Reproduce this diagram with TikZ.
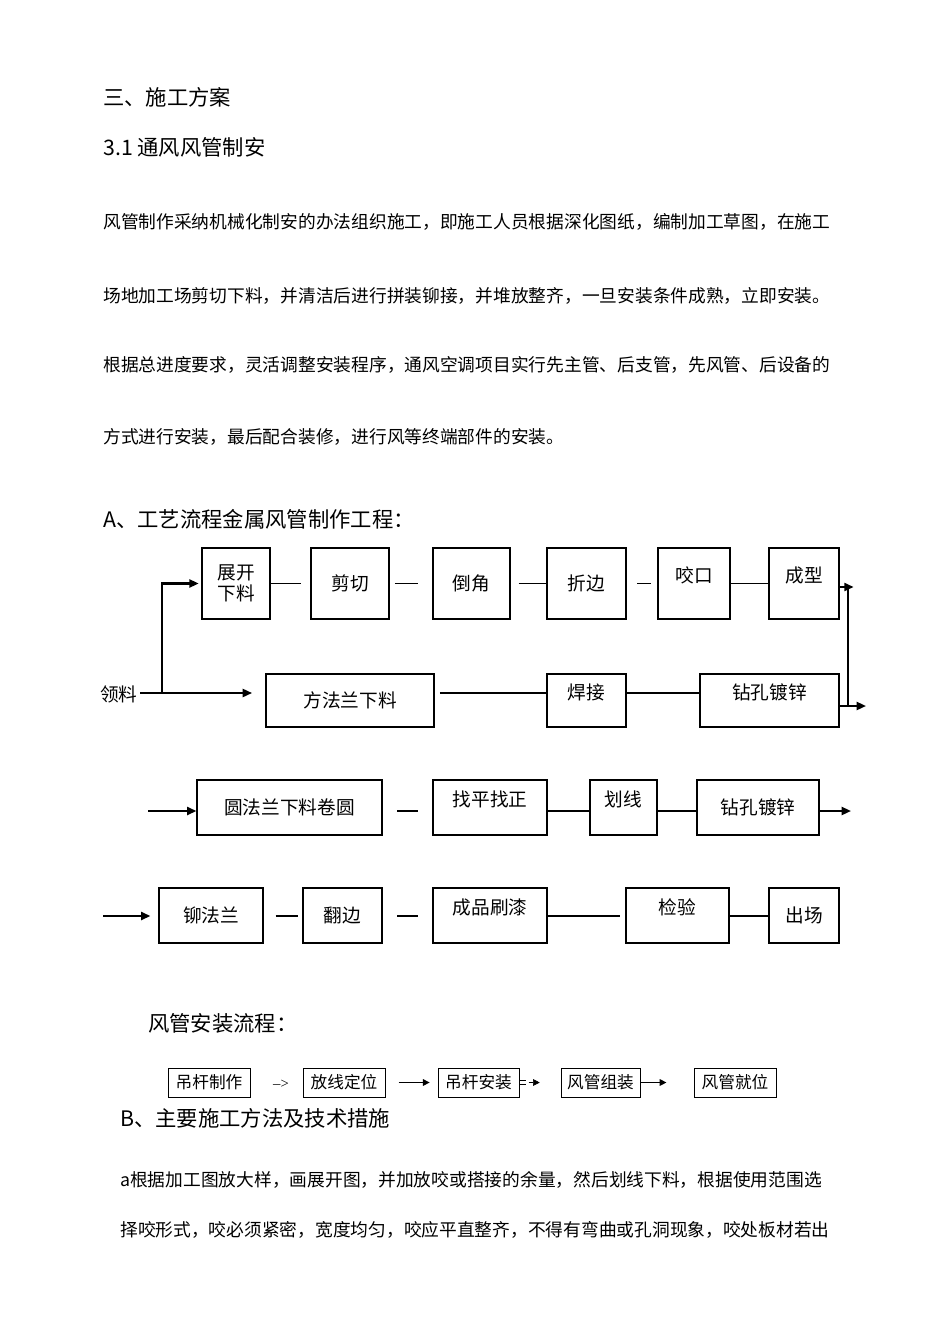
\documentclass[tikz,border=0pt]{standalone}
\usepackage{fontspec}
\setmainfont{Liberation Serif}
\newfontfamily\cjk{Noto Sans CJK SC}
\usetikzlibrary{fit,arrows.meta}
\tikzset{
 box/.style={draw, line width=0.9pt, inner sep=0pt},
 btxt/.style={font=\cjk\fontsize{14}{16}\selectfont},
 itxt/.style={font=\cjk\fontsize{12.5}{14}\selectfont},
 conn/.style={line width=0.8pt},
 arr/.style={line width=1.6pt, -{Triangle[length=7pt,width=6pt]}},
 pline/.style={anchor=west, inner sep=0pt, font=\cjk\fontsize{13.3}{15}\selectfont},
 head/.style={anchor=west, inner sep=0pt, font=\cjk\fontsize{16}{18}\selectfont}
}
\newcommand{\bx}[6]{\node[box, fit={(#2,#3)(#4,#5)}] (#1) {}; \node[btxt] at (#1.center) {#6};}
\newcommand{\bxt}[6]{\node[box, fit={(#2,#3)(#4,#5)}] (#1) {}; \node[btxt, yshift=6pt] at (#1.center) {#6};}
\newcommand{\ib}[6]{\node[box, line width=0.6pt, fit={(#2,#3)(#4,#5)}] (#1) {}; \node[itxt] at (#1.center) {#6};}
\begin{document}
\begin{tikzpicture}[x=0.75pt,y=-0.75pt]
\useasboundingbox[fill=white] (0,0) rectangle (950,1344);
\node[head] (h1) at (103,97) {三、施工方案};
\node[head] (h2) at (103,147) {3.1 通风风管制安};
\node[pline] (p1) at (103,222) {风管制作采纳机械化制安的办法组织施工，即施工人员根据深化图纸，编制加工草图，在施工};
\node[pline] (p2) at (103,296) {场地加工场剪切下料，并清洁后进行拼装铆接，并堆放整齐，一旦安装条件成熟，立即安装。};
\node[pline] (p3) at (103,365) {根据总进度要求，灵活调整安装程序，通风空调项目实行先主管、后支管，先风管、后设备的};
\node[pline] (p4) at (103,437) {方式进行安装，最后配合装修，进行风等终端部件的安装。};
\node[head] (h3) at (103,519) {A、工艺流程金属风管制作工程：};
% row 1
\bx{a1}{202}{548}{270}{619}{\shortstack{展开\\下料}}
\bx{a2}{311}{548}{389}{619}{剪切}
\bx{a3}{433}{548}{510}{619}{倒角}
\bx{a4}{547}{548}{626}{619}{折边}
\bxt{a5}{658}{548}{730}{619}{咬口}
\bxt{a6}{769}{548}{839}{619}{成型}
\draw[conn] (a1.east) -- ++(30,0);
\draw[conn] ([xshift=4]a2.east) -- ([xshift=-11]a3.west);
\draw[conn] ([xshift=6]a3.east) -- (a4.west);
\draw[conn] ([xshift=8]a4.east) -- ([xshift=-5]a5.west);
\draw[conn] (a5.east) -- (a6.west);
% row 2
\coordinate (sp) at (162,693);
\coordinate (ls) at (140,693);
\node[head, font=\cjk\fontsize{14}{16}\selectfont] (ll) at (100,694) {领料};
\bx{b1}{266}{674}{434}{727}{方法兰下料}
\bxt{b2}{547}{674}{626}{727}{焊接}
\bxt{b3}{700}{674}{839}{727}{钻孔镀锌}
\draw[arr] (ls) -- ([xshift=-10]b1.west|-sp);
\draw[arr] (sp) |- ([xshift=-2]a1.west);
\draw[conn] ([xshift=4]b1.east|-sp) -- (b2.west|-sp);
\draw[conn] (b2.east|-sp) -- (b3.west|-sp);
\coordinate (rt) at (848,587);
\coordinate (rb) at (848,706);
\draw[line width=1.6pt] (a6.east|-rt) -- (rt) -- (rb);
\draw[arr] (a6.east|-rt) -- ++(14,0);
\draw[arr] (b3.east|-rb) -- (866,706);
% row 3
\coordinate (r3) at (148,811);
\bx{c1}{197}{780}{382}{835}{圆法兰下料卷圆}
\bxt{c2}{433}{780}{547}{835}{找平找正}
\bxt{c3}{590}{780}{657}{835}{划线}
\bx{c4}{697}{780}{819}{835}{钻孔镀锌}
\coordinate (r3e) at (851,811);
\draw[arr] (r3) -- (c1.west|-r3);
\draw[conn] ([xshift=11]c1.east|-r3) -- ([xshift=-11]c2.west|-r3);
\draw[conn] (c2.east|-r3) -- (c3.west|-r3);
\draw[conn] (c3.east|-r3) -- (c4.west|-r3);
\draw[arr] (c4.east|-r3) -- (r3e);
% row 4
\coordinate (r4) at (103,916);
\bx{d1}{159}{888}{263}{943}{铆法兰}
\bx{d2}{303}{888}{382}{943}{翻边}
\bxt{d3}{433}{888}{547}{943}{成品刷漆}
\bxt{d4}{626}{888}{729}{943}{检验}
\bx{d5}{769}{888}{839}{943}{出场}
\draw[arr] (r4) -- ([xshift=-6]d1.west|-r4);
\draw[conn] ([xshift=9]d1.east|-r4) -- ([xshift=-3]d2.west|-r4);
\draw[conn] ([xshift=11]d2.east|-r4) -- ([xshift=-11]d3.west|-r4);
\draw[conn] (d3.east|-r4) -- ([xshift=-4]d4.west|-r4);
\draw[conn] (d4.east|-r4) -- (d5.west|-r4);
% install flow
\node[head] (h4) at (148,1023) {风管安装流程：};
\ib{e1}{168}{1068}{250}{1097}{吊杆制作}
\ib{e2}{303}{1068}{385}{1097}{放线定位}
\ib{e3}{438}{1068}{519}{1097}{吊杆安装}
\ib{e4}{561}{1068}{640}{1097}{风管组装}
\ib{e5}{694}{1068}{776}{1097}{风管就位}
\node[font=\fontsize{11}{12}\selectfont] (t1) at (281,1084) {-->};
\draw[line width=0.8pt, -{Triangle[length=5pt,width=5pt]}] ([xshift=10]e2.east) -- ([xshift=-6]e3.west);
\draw[line width=0.5pt] ([yshift=-1.5]e3.east) -- ++(7,0) ([yshift=1.5]e3.east) -- ++(7,0);
\draw[line width=0.5pt, -{Triangle[length=5pt,width=5pt]}] ([xshift=7]e3.east) -- ++(11,0);
\draw[line width=0.8pt, -{Triangle[length=5pt,width=5pt]}] (e4.east) -- ++(26,0);
\node[head] (h5) at (120,1118) {B、主要施工方法及技术措施};
\node[pline] (q1) at (120,1180) {a根据加工图放大样，画展开图，并加放咬或搭接的余量，然后划线下料，根据使用范围选};
\node[pline] (q2) at (120,1230) {择咬形式，咬必须紧密，宽度均匀，咬应平直整齐，不得有弯曲或孔洞现象，咬处板材若出};
\end{tikzpicture}
\end{document}
